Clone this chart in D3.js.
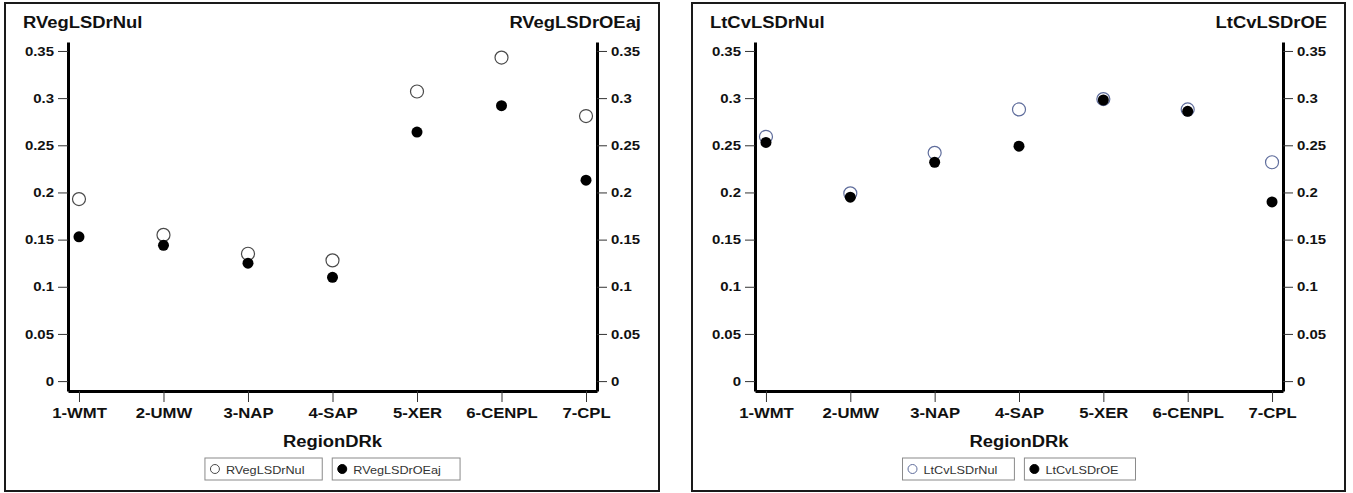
<!DOCTYPE html>
<html>
<head>
<meta charset="utf-8">
<script src="https://cdn.jsdelivr.net/npm/d3@7"></script>
<style>
  html, body { margin: 0; padding: 0; background: #fff; }
  svg { display: block; }
  text { font-family: "Liberation Sans", Arial, sans-serif; }
</style>
</head>
<body>
<svg id="chart" width="1353" height="493"></svg>
<script>
// ---- data ----
const categories = ["1-WMT", "2-UMW", "3-NAP", "4-SAP", "5-XER", "6-CENPL", "7-CPL"];
const rvegLSDrNul  = [0.193, 0.155, 0.135, 0.128, 0.307, 0.343, 0.281];
const rvegLSDrOEaj = [0.153, 0.144, 0.125, 0.110, 0.264, 0.292, 0.213];
const ltcvLSDrNul  = [0.259, 0.199, 0.242, 0.288, 0.299, 0.288, 0.232];
const ltcvLSDrOE   = [0.253, 0.195, 0.232, 0.249, 0.298, 0.286, 0.190];
const yTickValues  = [0, 0.05, 0.1, 0.15, 0.2, 0.25, 0.3, 0.35];
const yTickLabels  = ["0", "0.05", "0.1", "0.15", "0.2", "0.25", "0.3", "0.35"];
const xAxisTitle   = "RegionDRk";

const panels = [
  { left: 5,   right: 659,  titleL: "RVegLSDrNul", titleR: "RVegLSDrOEaj",
    open: rvegLSDrNul, filled: rvegLSDrOEaj, openStroke: "#4a4a4a" },
  { left: 692, right: 1345, titleL: "LtCvLSDrNul", titleR: "LtCvLSDrOE",
    open: ltcvLSDrNul, filled: ltcvLSDrOE, openStroke: "#5f6d9c" }
];

const STRETCH = 1.15;
function stretch(sel) {
  sel.each(function () {
    const w = this.getComputedTextLength();
    d3.select(this).attr("textLength", w * STRETCH).attr("lengthAdjust", "spacingAndGlyphs");
  });
}

const svg = d3.select("#chart");
const panelTop = 3, panelBottom = 491;

panels.forEach(p => {
  const g = svg.append("g");
  // panel border
  g.append("rect")
    .attr("x", p.left).attr("y", panelTop)
    .attr("width", p.right - p.left).attr("height", panelBottom - panelTop)
    .attr("fill", "#fff").attr("stroke", "#1a1a1a").attr("stroke-width", 2);

  const plotL = p.left + 63, plotR = p.right - 62;
  const x = d3.scalePoint().domain(categories).range([plotL, plotR]).padding(0.13);
  const y = d3.scaleLinear().domain([-0.0105, 0.3595]).range([391, 42]);

  // left axis
  const yl = g.append("g").attr("transform", `translate(${plotL},0)`)
    .call(d3.axisLeft(y).tickValues(yTickValues).tickFormat((d, i) => yTickLabels[i]).tickSize(10).tickSizeOuter(0).tickPadding(4));
  // right axis
  const yr = g.append("g").attr("transform", `translate(${plotR},0)`)
    .call(d3.axisRight(y).tickValues(yTickValues).tickFormat((d, i) => yTickLabels[i]).tickSize(10).tickSizeOuter(0).tickPadding(4));
  // x axis
  const xa = g.append("g").attr("transform", `translate(0,391)`)
    .call(d3.axisBottom(x).tickSize(11).tickSizeOuter(0).tickPadding(6));

  [yl, yr, xa].forEach(a => {
    a.select(".domain").attr("stroke", "#000").attr("stroke-width", 3);
    a.selectAll(".tick line").attr("stroke", "#333").attr("stroke-width", 1);
  });
  [yl, yr].forEach(a => a.selectAll(".tick text")
    .attr("font-size", 13).attr("font-weight", "bold").attr("fill", "#111")
    .attr("font-family", "Liberation Sans, Arial, sans-serif"));
  xa.selectAll(".tick text")
    .attr("font-size", 14.5).attr("font-weight", "bold").attr("fill", "#111")
    .attr("font-family", "Liberation Sans, Arial, sans-serif");
  yl.selectAll(".tick text").call(stretch);
  yr.selectAll(".tick text").call(stretch);
  xa.selectAll(".tick text").call(stretch);

  // titles
  g.append("text").attr("x", p.left + 18).attr("y", 28)
    .attr("font-size", 16).attr("font-weight", "bold").attr("fill", "#111")
    .text(p.titleL).call(stretch);
  g.append("text").attr("x", p.right - 18).attr("y", 28).attr("text-anchor", "end")
    .attr("font-size", 16).attr("font-weight", "bold").attr("fill", "#111")
    .text(p.titleR).call(stretch);

  // axis title
  const cx = (plotL + plotR) / 2;
  g.append("text").attr("x", cx).attr("y", 447).attr("text-anchor", "middle")
    .attr("font-size", 16).attr("font-weight", "bold").attr("fill", "#111")
    .text(xAxisTitle).call(stretch);

  // markers
  g.append("g").selectAll("circle").data(categories).join("circle")
    .attr("cx", d => x(d)).attr("cy", (d, i) => y(p.open[i]))
    .attr("r", 6.5).attr("fill", "#fff").attr("stroke", p.openStroke).attr("stroke-width", 1.2);
  g.append("g").selectAll("circle").data(categories).join("circle")
    .attr("cx", d => x(d)).attr("cy", (d, i) => y(p.filled[i]))
    .attr("r", 5.5).attr("fill", "#000");

  // legend
  const items = [
    { label: p.titleL, fill: "#fff", stroke: p.openStroke },
    { label: p.titleR, fill: "#000", stroke: "#000" }
  ];
  const lg = g.append("g");
  const groups = items.map(it => {
    const ig = lg.append("g");
    const box = ig.append("rect").attr("y", 458).attr("height", 22)
      .attr("fill", "#fff").attr("stroke", "#8a8a8a").attr("stroke-width", 1);
    ig.append("circle").attr("cx", 10).attr("cy", 469).attr("r", 4.5)
      .attr("fill", it.fill).attr("stroke", it.stroke).attr("stroke-width", 1);
    const t = ig.append("text").attr("x", 21).attr("y", 473.5)
      .attr("font-size", 11).attr("fill", "#333").text(it.label).call(stretch);
    const w = 21 + t.node().getComputedTextLength() * STRETCH + 6;
    box.attr("x", 0).attr("width", w);
    return { ig, w };
  });
  const gap = 10;
  const total = groups[0].w + gap + groups[1].w;
  let sx = cx - total / 2;
  groups.forEach(o => { o.ig.attr("transform", `translate(${sx},0)`); sx += o.w + gap; });
});
</script>
</body>
</html>
